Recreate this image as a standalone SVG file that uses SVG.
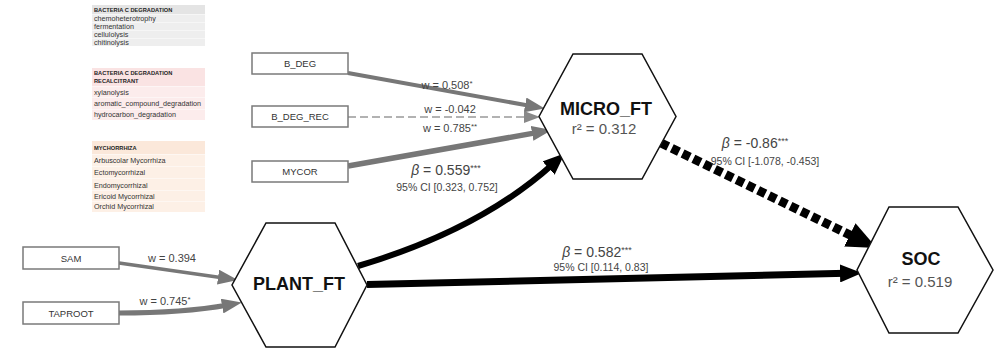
<svg xmlns="http://www.w3.org/2000/svg" width="997" height="350" viewBox="0 0 997 350">
<style>
.tbl{font-family:"Liberation Sans",Arial,sans-serif;font-size:7.2px;fill:#333}
.th{font-family:"Liberation Sans",Arial,sans-serif;font-size:5.7px;font-weight:bold;fill:#222}
.box{fill:#fff;stroke:#7a7a7a;stroke-width:1.5}
.bt{font-family:"Liberation Sans",Arial,sans-serif;font-size:9.5px;fill:#333;text-anchor:middle}
.hex{fill:#fff;stroke:#111;stroke-width:1.5}
.hn{font-family:"Liberation Sans",Arial,sans-serif;font-size:18px;font-weight:bold;fill:#111;text-anchor:middle}
.r2{font-family:"Liberation Sans",Arial,sans-serif;font-size:15px;fill:#555;text-anchor:middle}
.w{font-family:"Liberation Sans",Arial,sans-serif;font-size:11px;fill:#444;text-anchor:middle}
.b{font-family:"Liberation Sans",Arial,sans-serif;font-size:14px;fill:#444;text-anchor:middle}
.ci{font-family:"Liberation Sans",Arial,sans-serif;font-size:10.5px;fill:#444;text-anchor:middle}
.g{fill:none;stroke:#777}
.k{fill:none;stroke:#000}
</style>
<defs>
<marker id="mg" viewBox="0 0 20 15" refX="6" refY="7.5" markerWidth="20" markerHeight="15" markerUnits="userSpaceOnUse" orient="auto"><path d="M0,0 L20,7.5 L0,15 z" fill="#777"/></marker>
<marker id="mgs" viewBox="0 0 16 12" refX="4" refY="6" markerWidth="16" markerHeight="12" markerUnits="userSpaceOnUse" orient="auto"><path d="M0,0 L16,6 L0,12 z" fill="#888"/></marker>
<marker id="mb" viewBox="0 0 22 18" refX="6" refY="9" markerWidth="22" markerHeight="18" markerUnits="userSpaceOnUse" orient="auto"><path d="M0,0 L22,9 L0,18 z" fill="#000"/></marker>
<marker id="mbl" viewBox="0 0 30 26" refX="8" refY="13" markerWidth="30" markerHeight="26" markerUnits="userSpaceOnUse" orient="auto"><path d="M0,0 L30,13 L0,26 z" fill="#000"/></marker>
</defs>

<g id="legend-bdeg">
<rect x="92" y="5" width="113" height="9" fill="#e4e4e4"/>
<rect x="92" y="14.5" width="113" height="7.5" fill="#eeeeee"/>
<rect x="92" y="22.5" width="113" height="7.5" fill="#eeeeee"/>
<rect x="92" y="30.5" width="113" height="7.5" fill="#eeeeee"/>
<rect x="92" y="38.5" width="113" height="7.5" fill="#eeeeee"/>
<text class="th" x="94" y="11.5">BACTERIA C DEGRADATION</text>
<text class="tbl" x="94" y="20.5">chemoheterotrophy</text>
<text class="tbl" x="94" y="28.5">fermentation</text>
<text class="tbl" x="94" y="36.5">cellulolysis</text>
<text class="tbl" x="94" y="44.5">chitinolysis</text>
</g>
<g id="legend-bdegrec">
<rect x="92" y="68" width="113" height="18" fill="#fae3e3"/>
<rect x="92" y="86.5" width="113" height="11" fill="#fcecec"/>
<rect x="92" y="98" width="113" height="11" fill="#fcecec"/>
<rect x="92" y="109.5" width="113" height="10.5" fill="#fcecec"/>
<text class="th" x="94" y="75">BACTERIA C DEGRADATION</text>
<text class="th" x="94" y="82.5">RECALCITRANT</text>
<text class="tbl" x="94" y="94.5">xylanolysis</text>
<text class="tbl" x="94" y="106">aromatic_compound_degradation</text>
<text class="tbl" x="94" y="117">hydrocarbon_degradation</text>
</g>
<g id="legend-mycor">
<rect x="92" y="141" width="113" height="13" fill="#fbe8da"/>
<rect x="92" y="154.5" width="113" height="11.5" fill="#fdf0e6"/>
<rect x="92" y="166.5" width="113" height="11.5" fill="#fdf0e6"/>
<rect x="92" y="178.5" width="113" height="12" fill="#fdf0e6"/>
<rect x="92" y="191" width="113" height="10" fill="#fdf0e6"/>
<rect x="92" y="201.5" width="113" height="10.5" fill="#fdf0e6"/>
<text class="th" x="94" y="150">MYCHORRHIZA</text>
<text class="tbl" x="94" y="162.5">Arbuscolar Mycorrhiza</text>
<text class="tbl" x="94" y="174.5">Ectomycorrhizal</text>
<text class="tbl" x="94" y="187.5">Endomycorrhizal</text>
<text class="tbl" x="94" y="198.5">Ericoid Mycorrhizal</text>
<text class="tbl" x="94" y="209">Orchid Mycorrhizal</text>
</g>

<g id="connectors">
<path class="g" d="M348,73 L531,106" stroke-width="4" marker-end="url(#mg)"/>
<path d="M348,117 L528,117" fill="none" stroke="#999" stroke-width="1.5" stroke-dasharray="8 4" marker-end="url(#mgs)"/>
<path class="g" d="M348,166 L538,132.4" stroke-width="5.5" marker-end="url(#mg)"/>
<path class="g" d="M119,263 L224,278" stroke-width="3.5" marker-end="url(#mg)"/>
<path class="g" d="M119,313 C170,313 200,310 228,305" stroke-width="5" marker-end="url(#mg)"/>
<path class="k" d="M358,266 Q480,230 553,164" stroke-width="6" marker-end="url(#mb)"/>
<path class="k" d="M367,284.5 L846,273.3" stroke-width="7" marker-end="url(#mb)"/>
<path class="k" d="M661,143 L857,238.4" stroke-width="9" stroke-dasharray="8 4" marker-end="url(#mbl)"/>
<text class="w" x="447" y="89">w = 0.508<tspan font-size="8" dy="-3">*</tspan></text>
<text class="w" x="450" y="112.5">w = -0.042</text>
<text class="w" x="450" y="132">w = 0.785<tspan font-size="8" dy="-3">**</tspan></text>
<text class="w" x="172" y="262">w = 0.394</text>
<text class="w" x="165" y="305">w = 0.745<tspan font-size="8" dy="-3">*</tspan></text>
<text class="b" x="446" y="175"><tspan font-style="italic">β</tspan> = 0.559<tspan font-size="9" dy="-4">***</tspan></text>
<text class="ci" x="447" y="191">95% CI [0.323, 0.752]</text>
<text class="b" x="597" y="257"><tspan font-style="italic">β</tspan> = 0.582<tspan font-size="9" dy="-4">***</tspan></text>
<text class="ci" x="601" y="271">95% CI [0.114, 0.83]</text>
<text class="b" x="755" y="148"><tspan font-style="italic">β</tspan> = -0.86<tspan font-size="9" dy="-4">***</tspan></text>
<text class="ci" x="765" y="165">95% CI [-1.078, -0.453]</text>
</g>

<g id="B_DEG"><rect class="box" x="252" y="53" width="96" height="21"/><text class="bt" x="300" y="67">B_DEG</text></g>
<g id="B_DEG_REC"><rect class="box" x="252" y="106" width="96" height="21"/><text class="bt" x="300" y="120">B_DEG_REC</text></g>
<g id="MYCOR"><rect class="box" x="252" y="161" width="96" height="21"/><text class="bt" x="300" y="175">MYCOR</text></g>
<g id="SAM"><rect class="box" x="23" y="247" width="96" height="22"/><text class="bt" x="71" y="261.5">SAM</text></g>
<g id="TAPROOT"><rect class="box" x="23" y="302" width="96" height="22"/><text class="bt" x="71" y="316.5">TAPROOT</text></g>

<g id="MICRO_FT"><polygon class="hex" points="573,54 642,54 676,116.5 642,179 573,179 539,116.5"/><text class="hn" x="606" y="115">MICRO_FT</text><text class="r2" x="604" y="134">r² = 0.312</text></g>
<g id="PLANT_FT"><polygon class="hex" points="266,223 335,223 367,285 335,347 266,347 232,285"/><text class="hn" x="299" y="290">PLANT_FT</text></g>
<g id="SOC"><polygon class="hex" points="889,207 958,207 993,270 958,333 889,333 857,270"/><text class="hn" x="921" y="265" font-size="21">SOC</text><text class="r2" x="920" y="287">r² = 0.519</text></g>
</svg>
